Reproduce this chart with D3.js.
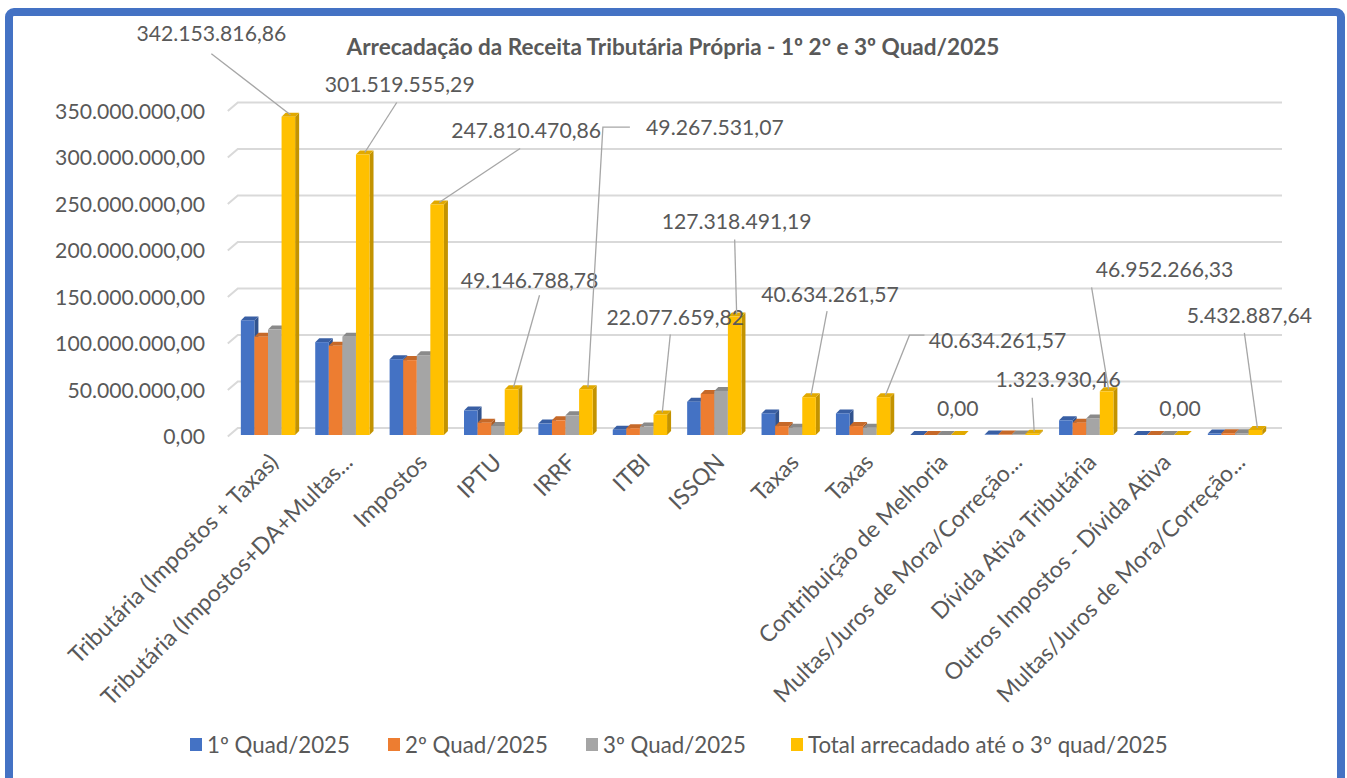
<!DOCTYPE html>
<html><head><meta charset="utf-8">
<script src="https://cdn.jsdelivr.net/npm/d3@7"></script>
<style>html,body{margin:0;padding:0;background:#fff;} svg{display:block;font-family:Lato,'Open Sans',sans-serif;font-variant-numeric:tabular-nums;}</style>
</head><body><svg id="c" width="1347" height="778"></svg>
<script>
// ---- data ----
const categories = ["Tributária (Impostos + Taxas)","Tributária (Impostos+DA+Multas...","Impostos","IPTU","IRRF","ITBI","ISSQN","Taxas","Taxas","Contribuição de Melhoria","Multas/Juros de Mora/Correção...","Dívida Ativa Tributária","Outros Impostos - Dívida Ativa","Multas/Juros de Mora/Correção..."];
const seriesNames = ["1º Quad/2025","2º Quad/2025","3º Quad/2025","Total arrecadado até o 3º quad/2025"];
const quad1 = [123.2e6, 99.8e6, 81.5e6, 26.3e6, 12.3e6, 5.7e6, 35.8e6, 23.2e6, 23.2e6, 0, 0.45e6, 15.8e6, 0, 1.6e6];
const quad2 = [105.6e6, 96.0e6, 80.5e6, 13.2e6, 15.8e6, 7.3e6, 44.1e6, 9.6e6, 9.6e6, 0, 0.42e6, 13.3e6, 0, 1.9e6];
const quad3 = [113.35e6, 105.72e6, 85.81e6, 9.65e6, 21.17e6, 9.08e6, 47.42e6, 7.83e6, 7.83e6, 0, 0.45e6, 17.85e6, 0, 1.93e6];
const totals = [342153816.86, 301519555.29, 247810470.86, 49146788.78, 49267531.07, 22077659.82, 127318491.19, 40634261.57, 40634261.57, 0, 1323930.46, 46952266.33, 0, 5432887.64];
const yTicks = [0, 50e6, 100e6, 150e6, 200e6, 250e6, 300e6, 350e6];
const title = "Arrecadação da Receita Tributária Própria - 1º 2° e 3º Quad/2025";

// ---- layout (label placement relative to top of the total bar) ----
const labelOffsets = [[-79,-81],[35,-68],[87,-72],[16,-107],[127,-260],[13,-95],[0,-93],[19,-101],[112,-55],[-2,-24],[24,-52],[56,-120],[-3,-24],[-8,-112]];
const leaderPaths = [[[0,20]],[[-3,18]],[[-6,18]],[[10,15]],[[-85,0],[-112,0]],[[-5,17]],[[-2,18]],[[-3,17]],[[-73,-5],[-88,-5]],null,[[-26,18]],[[-73,18]],null,[[-5,17]]];

const colors = ["#4472C4","#ED7D31","#A5A5A5","#FFC000"];
const textColor = "#595959";
const svg = d3.select("#c");

function fitSize(str, base, target, weight) {
  const t = svg.append("text").attr("font-size", base).attr("font-weight", weight||"normal").text(str);
  const w = t.node().getComputedTextLength();
  t.remove();
  return base * target / w;
}
const tickSize = fitSize("350.000.000,00", 20, 150);
const titleSize = fitSize(title, 18, 653, "bold");
const legendSize = fitSize(seriesNames[3], 19, 360);
const catSize = fitSize("Contribuição de Melhoria", 19, 256);

// frame
svg.append("rect").attr("x",9).attr("y",12).attr("width",1332).attr("height",790)
  .attr("rx",5).attr("fill","#fff").attr("stroke","#4472C4").attr("stroke-width",8);

const locale = d3.formatLocale({decimal:",", thousands:".", grouping:[3], currency:["R$",""]});
const fmt = locale.format(",.2f");

const y = d3.scaleLinear().domain([0,350e6]).range([435,109.4]);
const x = d3.scaleBand().domain(d3.range(categories.length)).range([230.8,1272.2]).paddingInner(0.27).paddingOuter(0.135);
const xs = d3.scaleBand().domain(d3.range(4)).range([0,x.bandwidth()]);
const depthX = 4, depthY = -4;
const wallDX = 10, wallDY = -7;
const gridRight = 1282;

// gridlines
const grid = svg.append("g");
yTicks.forEach(t=>{
  const yf = y(t);
  grid.append("path").attr("d",`M${230.8-3},${yf+1.5}L${230.8-3+wallDX},${yf+wallDY}L${gridRight},${yf+wallDY}`)
    .attr("fill","none").attr("stroke","#D9D9D9").attr("stroke-width",2);
});
// y tick labels
svg.append("g").selectAll("text").data(yTicks).join("text")
  .attr("x",205).attr("y",d=>y(d)+2).attr("dy","0.35em").attr("text-anchor","end")
  .attr("font-size",tickSize).attr("fill",textColor).text(d=>fmt(d));

// bars
const seriesData = [quad1,quad2,quad3,totals];
const bars = svg.append("g");
categories.forEach((c,i)=>{
  seriesData.forEach((arr,s)=>{
    const v = arr[i];
    const x0 = x(i)+xs(s), w = xs.bandwidth();
    const yt = y(v), yb = y(0);
    const col = d3.color(colors[s]);
    const side = col.darker(s===3?0.75:0.9);
    const top = col.darker(s===3?0.35:0.5);
    bars.append("path").attr("d",`M${x0+w},${yt}L${x0+w+depthX},${yt+depthY}L${x0+w+depthX},${yb+depthY}L${x0+w},${yb}Z`).attr("fill",side);
    bars.append("path").attr("d",`M${x0},${yt}L${x0+depthX},${yt+depthY}L${x0+w+depthX},${yt+depthY}L${x0+w},${yt}Z`).attr("fill",top);
    if (yb-yt>0) bars.append("rect").attr("x",x0).attr("y",yt).attr("width",w).attr("height",yb-yt).attr("fill",colors[s]);
  });
});

// data labels
const lab = svg.append("g");
totals.forEach((v,i)=>{
  const w = xs.bandwidth();
  const bx = x(i)+xs(3)+w/2+depthX/2, by = y(v)+depthY/2;
  const [ox,oy] = labelOffsets[i];
  const tx = bx+ox, ty = by+oy;
  if (leaderPaths[i]) {
    const pts = leaderPaths[i].map(p=>[tx+p[0],ty+p[1]]);
    pts.push([bx,by]);
    lab.append("path").attr("d",d3.line()(pts)).attr("fill","none").attr("stroke","#A6A6A6").attr("stroke-width",1.3);
  }
  lab.append("text").attr("x",tx).attr("y",ty).attr("dy","0.35em").attr("text-anchor","middle")
    .attr("font-size",tickSize).attr("fill",textColor).text(fmt(v));
});

// category labels
svg.append("g").selectAll("text").data(categories).join("text")
  .attr("transform",(d,i)=>`translate(${x(i)+x.bandwidth()/2+6},${458}) rotate(-45)`)
  .attr("text-anchor","end").attr("dy","0.35em").attr("font-size",catSize).attr("fill",textColor).text(d=>d);

// title
svg.append("text").attr("x",673).attr("y",47).attr("dy","0.35em").attr("text-anchor","middle")
  .attr("font-size",titleSize).attr("font-weight","bold").attr("fill",textColor).text(title);

// legend
const legX = [190,388,586,791];
const leg = svg.append("g");
seriesNames.forEach((n,s)=>{
  leg.append("rect").attr("x",legX[s]).attr("y",738).attr("width",12).attr("height",13).attr("fill",colors[s]);
  leg.append("text").attr("x",legX[s]+17).attr("y",745).attr("dy","0.35em").attr("font-size",legendSize).attr("fill",textColor).text(n);
});
</script></body></html>
